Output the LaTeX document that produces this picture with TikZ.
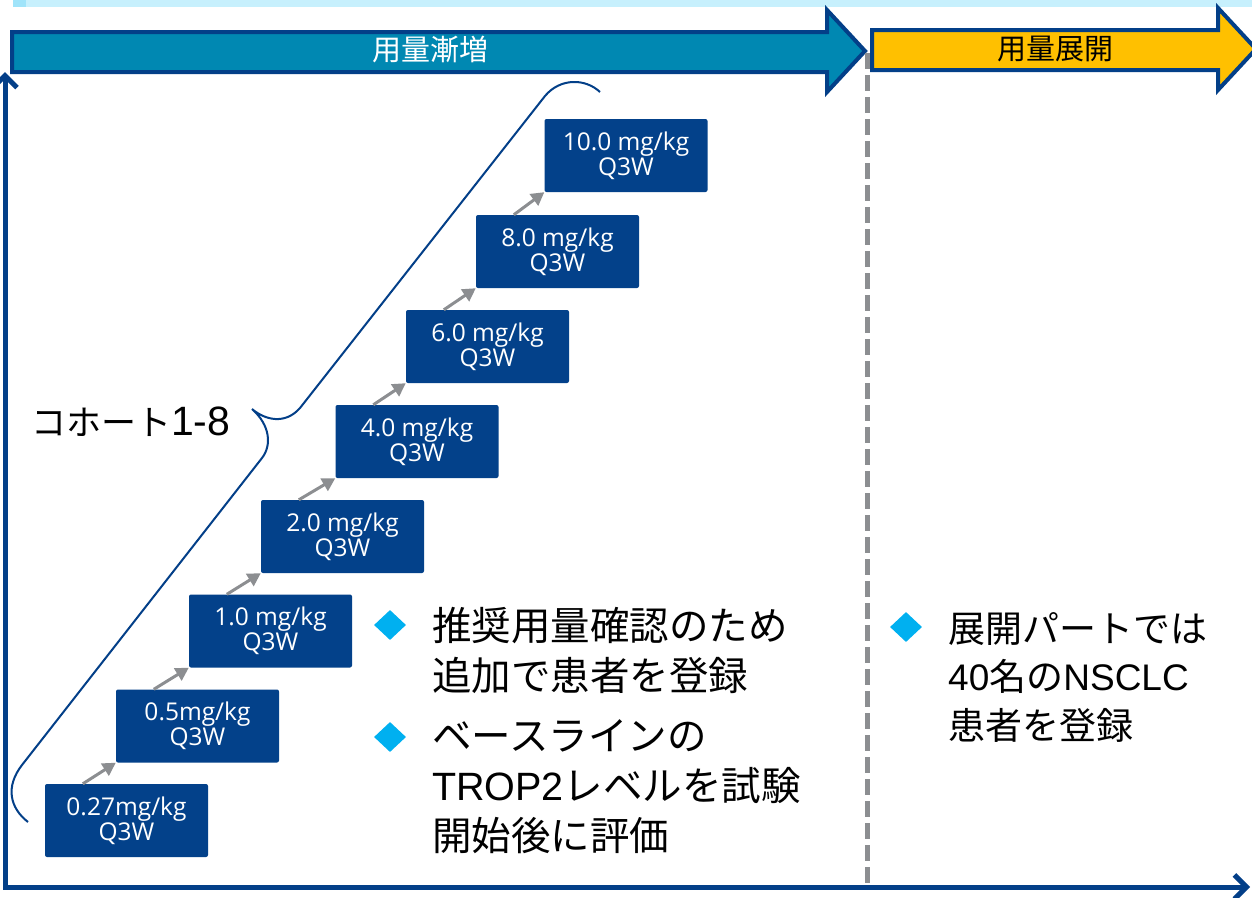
\documentclass[tikz,border=0pt]{standalone}
\usepackage{fontspec}
\setmainfont{Noto Sans CJK JP}
\newfontfamily\jp{Noto Sans CJK JP}
\newfontfamily\lat{Liberation Sans}
\newfontfamily\boxf{Open Sans}
\usetikzlibrary{arrows.meta,calc,shapes.geometric}
\definecolor{stripc}{HTML}{C7F0FD}
\definecolor{stripd}{HTML}{A0E4FA}
\definecolor{tealc}{HTML}{0088B2}
\definecolor{navy}{HTML}{033F88}
\definecolor{goldc}{HTML}{FFC000}
\definecolor{boxc}{HTML}{03418A}
\definecolor{grayc}{HTML}{8C8E91}
\definecolor{cyanc}{HTML}{00B0F0}
\tikzset{
  hdrarrow/.style={draw=navy, line width=4pt, line join=miter},
  dosebox/.style={fill=boxc, rounded corners=2pt, minimum width=163pt, minimum height=73pt,
    inner sep=0pt, text=white, align=center, font=\boxf\fontsize{24.5}{25}\selectfont},
  steparrow/.style={draw=grayc, line width=3pt, -{Triangle[length=13pt,width=14pt]}},
  axis/.style={draw=navy, line width=5pt, line join=miter,
    {Straight Barb[length=12pt,width=24pt]}-{Straight Barb[length=12pt,width=24pt]}},
  brace/.style={draw=navy, line width=2pt},
  bulletmark/.style={diamond, fill=cyanc, inner sep=0pt, minimum width=32pt, minimum height=30pt},
  bodyl/.style={anchor=base west, align=left, inner sep=0pt, font=\jp\fontsize{39.5}{50}\selectfont},
  bodyr/.style={anchor=base west, align=left, inner sep=0pt, font=\jp\fontsize{37}{48.5}\selectfont},
  hdrtext/.style={inner sep=0pt, font=\jp\fontsize{29}{30}\selectfont}
}
\begin{document}
\begin{tikzpicture}[x=1pt,y=-1pt]
\useasboundingbox (0,0) rectangle (1252,897);
\fill[white] (0,0) rectangle (1252,897);
% top strip
\fill[stripc] (13,0) rectangle (1252,7);
\fill[stripd] (13,0) rectangle (26,7);
% header arrows
\path[hdrarrow, fill=tealc] (12,32) -- (827,32) -- (827,10) -- (865,51) -- (827,92) -- (827,72) -- (12,72) -- cycle;
\node[hdrtext, text=white] (h1) at (430,50) {用量漸増};
\path[hdrarrow, fill=goldc] (872,30) -- (1218,30) -- (1218,8) -- (1256,49) -- (1218,90) -- (1218,70) -- (872,70) -- cycle;
\node[hdrtext, text=black] (h2) at (1055,49) {用量展開};
% dashed separator
\coordinate (dtop) at (867,53);
\coordinate (dbot) at (867,884);
\draw[grayc, line width=5pt, dash pattern=on 16pt off 6pt] (dtop) -- (dbot);
% axes
\coordinate (ytop) at (5,72);
\coordinate (orig) at (5,887);
\coordinate (xend) at (1250,887);
\draw[axis] (ytop) -- (orig) -- (xend);
% brace
\draw[brace] (600,92) .. controls (585,78) and (560,78) .. (545,96) -- (300,408)
  .. controls (285,425) and (265,420) .. (252,409)
  .. controls (270,425) and (272,445) .. (262,458) -- (22,765)
  .. controls (5,787) and (10,808) .. (28,822);
\node[anchor=west, inner sep=0pt] (coh) at (31,422) {\jp\fontsize{35}{40}\selectfont コホート{\lat\fontsize{41}{44}\selectfont 1-8}};
% dose boxes
\node[dosebox] (b1) at (126.5,820.5) {0.27mg/kg\\Q3W};
\node[dosebox] (b2) at (197.5,726) {0.5mg/kg\\Q3W};
\node[dosebox] (b3) at (270.5,631) {1.0 mg/kg\\Q3W};
\node[dosebox] (b4) at (342.5,536.5) {2.0 mg/kg\\Q3W};
\node[dosebox] (b5) at (417,441.5) {4.0 mg/kg\\Q3W};
\node[dosebox] (b6) at (487.5,346.5) {6.0 mg/kg\\Q3W};
\node[dosebox] (b7) at (557.5,251.5) {8.0 mg/kg\\Q3W};
\node[dosebox] (b8) at (626,155.5) {10.0 mg/kg\\Q3W};
\foreach \i/\j in {1/2,2/3,3/4,4/5,5/6,6/7,7/8}
  \draw[steparrow] ($(b\i.north west)+(38,0)$) -- (b\j.south west);
% bullets (base anchor = baseline of last line)
\node[bulletmark] (d1) at (390,625) {};
\node[bodyl] (p1) at (432,690) {推奨用量確認のため\\追加で患者を登録};
\node[bulletmark] (d2) at (390,737) {};
\node[bodyl] (p2) at (432,850) {ベースラインの\\{\lat TROP2}レベルを試験\\開始後に評価};
\node[bulletmark] (d3) at (906,627) {};
\node[bodyr] (p3) at (948,739) {展開パートでは\\{\lat 40}名の{\lat NSCLC}\\患者を登録};
\end{tikzpicture}
\end{document}
